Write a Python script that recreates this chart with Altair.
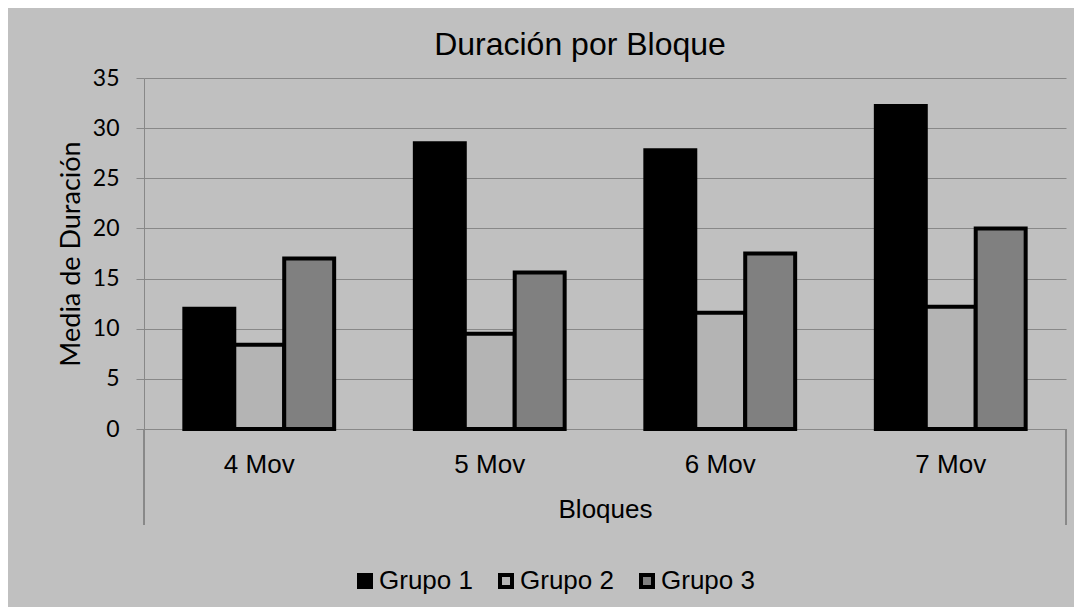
import altair as alt
import pandas as pd

categories = ["4 Mov", "5 Mov", "6 Mov", "7 Mov"]
groups = ["Grupo 1", "Grupo 2", "Grupo 3"]
grupo1 = [12.0, 28.5, 27.8, 32.2]
grupo2 = [8.4, 9.5, 11.6, 12.2]
grupo3 = [17.0, 15.6, 17.5, 20.0]
y_ticks = [0, 5, 10, 15, 20, 25, 30, 35]
fills = ["#000000", "#b4b4b4", "#808080"]

rows = []
for g, vals in zip(groups, [grupo1, grupo2, grupo3]):
    for c, v in zip(categories, vals):
        rows.append({"Bloque": c, "Grupo": g, "valor": v})
df = pd.DataFrame(rows)

W, H = 922, 351
GRID = "#888888"

bars = alt.Chart(df).mark_bar(stroke="black", strokeWidth=4).encode(
    x=alt.X(
        "Bloque:N",
        sort=categories,
        scale=alt.Scale(paddingInner=0.35, paddingOuter=0.175),
        axis=alt.Axis(
            title="Bloques",
            labelAngle=0,
            labelFont="Liberation Sans",
            labelFontSize=26,
            labelColor="black",
            labelPadding=22,
            ticks=False,
            domain=False,
            titleFont="Liberation Sans",
            titleFontSize=26,
            titleFontWeight="normal",
            titleColor="black",
            titleBaseline="alphabetic",
            titleY=88,
        ),
    ),
    xOffset=alt.XOffset("Grupo:N", sort=groups, scale=alt.Scale(paddingInner=0, paddingOuter=0)),
    y=alt.Y(
        "valor:Q",
        scale=alt.Scale(domain=[0, 35], nice=False),
        axis=alt.Axis(
            title="Media de Duración",
            values=y_ticks,
            labelFont="Lato",
            labelFontSize=23,
            labelColor="black",
            labelPadding=17,
            tickSize=8,
            tickColor=GRID,
            domainColor=GRID,
            gridColor=GRID,
            grid=True,
            titleFont="Lato",
            titleFontSize=27,
            titleFontWeight="normal",
            titleColor="black",
            titleBaseline="alphabetic",
            titleX=-65,
            titleY=H / 2,
        ),
    ),
    fill=alt.Fill(
        "Grupo:N",
        scale=alt.Scale(domain=groups, range=fills),
        legend=alt.Legend(
            title=None,
            orient="none",
            direction="horizontal",
            legendX=208,
            legendY=490,
            symbolType="square",
            symbolSize=144,
            symbolStrokeWidth=4,
            symbolStrokeColor="black",
            symbolOpacity=1,
            labelFont="Liberation Sans",
            labelFontSize=26,
            labelColor="black",
            labelOffset=1,
            columnPadding=19,
            padding=0,
        ),
    ),
)

frame_left = alt.Chart(df).mark_rule(color=GRID, strokeWidth=1).encode(
    x=alt.value(0), y=alt.value(H), y2=alt.value(H + 96)
)
frame_right = alt.Chart(df).mark_rule(color=GRID, strokeWidth=1).encode(
    x=alt.value(W), y=alt.value(H), y2=alt.value(H + 96)
)

chart = alt.layer(bars, frame_left, frame_right).properties(
    width=W,
    height=H,
    title=alt.TitleParams(
        "Duración por Bloque",
        font="Liberation Sans",
        fontSize=32,
        fontWeight="normal",
        color="black",
        anchor="middle",
        frame="group",
        dx=-25,
        baseline="alphabetic",
        offset=-20,
    ),
    autosize=alt.AutoSizeParams(type="none"),
    padding={"left": 136, "top": 70, "right": 8, "bottom": 178},
).configure(background="#c0c0c0").configure_view(stroke=None)

chart.save("out.html", embed_options={"renderer": "svg", "actions": False})
